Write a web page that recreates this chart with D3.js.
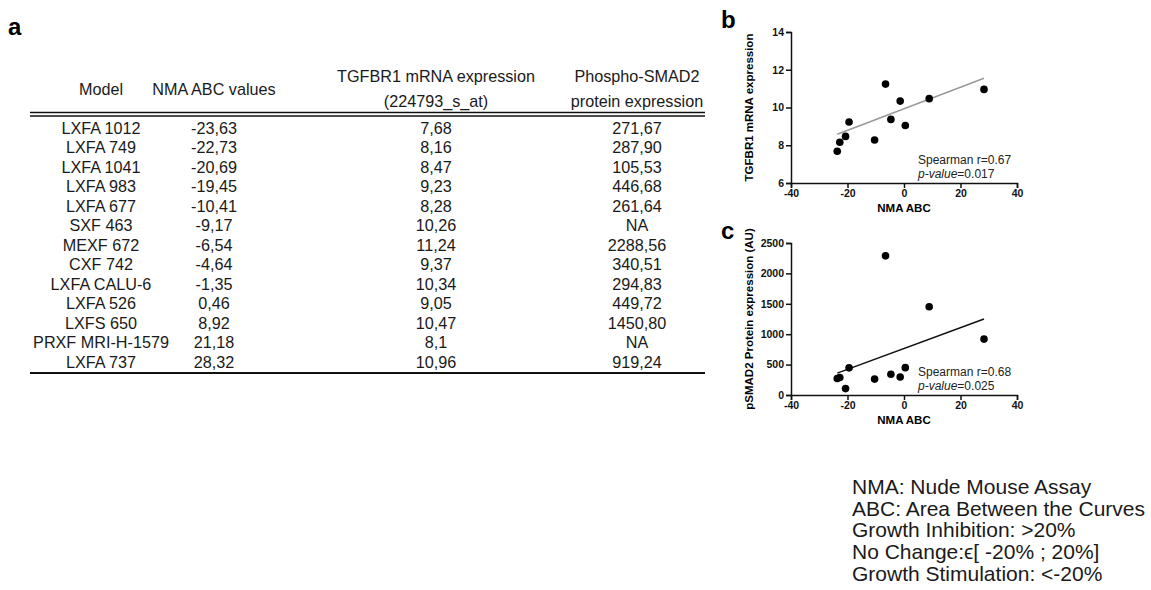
<!DOCTYPE html>
<html>
<head>
<meta charset="utf-8">
<script src="https://cdn.jsdelivr.net/npm/d3@7"></script>
<style>
  body { margin: 0; background: #fff; }
  svg { font-family: "Liberation Sans", Arial, Helvetica, sans-serif; }
</style>
</head>
<body>
<div id="fig"></div>
<script>
// table values as printed (comma decimals)
let models = ["LXFA 1012", "LXFA 749", "LXFA 1041", "LXFA 983", "LXFA 677", "SXF 463", "MEXF 672",
              "CXF 742", "LXFA CALU-6", "LXFA 526", "LXFS 650", "PRXF MRI-H-1579", "LXFA 737"];
let nmaText = ["-23,63", "-22,73", "-20,69", "-19,45", "-10,41", "-9,17", "-6,54",
               "-4,64", "-1,35", "0,46", "8,92", "21,18", "28,32"];
let tgfbr1Text = ["7,68", "8,16", "8,47", "9,23", "8,28", "10,26", "11,24",
                  "9,37", "10,34", "9,05", "10,47", "8,1", "10,96"];
let psmadText = ["271,67", "287,90", "105,53", "446,68", "261,64", "NA", "2288,56",
                 "340,51", "294,83", "449,72", "1450,80", "NA", "919,24"];

let headers = [
    ["Model"],
    ["NMA ABC values"],
    ["TGFBR1 mRNA expression", "(224793_s_at)"],
    ["Phospho-SMAD2", "protein expression"]
];

// fitted lines
let fitB = [[-23.63, 8.58], [28.32, 11.55]];
let fitC = [[-23.63, 360], [28.32, 1250]];

let notes = ["NMA: Nude Mouse Assay", "ABC: Area Between the Curves", "Growth Inhibition: >20%",
             "No Change:\u03f5[ -20% ; 20%]", "Growth Stimulation: <-20%"];

let num = s => +s.replace(",", ".");

let rows = models.map((m, i) => ({
    model: m,
    nma: num(nmaText[i]),
    tgfbr1: num(tgfbr1Text[i]),
    psmad: psmadText[i] == "NA" ? null : num(psmadText[i]),
    cells: [m, nmaText[i], tgfbr1Text[i], psmadText[i]]
}));
let scatterRows = rows.filter(d => d.psmad != null);

let width = 1151, height = 590;
let svg = d3.select("#fig").append("svg")
    .attr("width", width)
    .attr("height", height);

// ---------- panel a : table ----------
let colX = d3.scaleOrdinal().domain(d3.range(4)).range([101, 214, 436, 637]);
let rowY = d3.scaleBand().domain(models).range([118.5, 372]);

svg.append("text").attr("x", 8).attr("y", 35)
    .attr("font-size", 24).attr("font-weight", "bold").text("a");

let head = svg.append("g").attr("font-size", 16.2).attr("text-anchor", "middle").attr("fill", "#1a1a1a");
headers.forEach((h, c) => {
    let ys = h.length == 1 ? [89] : [76, 101];
    h.forEach((t, k) => {
        head.append("text").attr("x", colX(c)).attr("y", ys[k]).attr("dy", "0.35em").text(t);
    });
});

[112.5, 116].forEach(y => {
    svg.append("line").attr("x1", 30).attr("x2", 705).attr("y1", y).attr("y2", y)
        .attr("stroke", "#111").attr("stroke-width", 1.6);
});
svg.append("line").attr("x1", 30).attr("x2", 705).attr("y1", 373).attr("y2", 373)
    .attr("stroke", "#111").attr("stroke-width", 2);

let body = svg.append("g").attr("font-size", 16.2).attr("text-anchor", "middle").attr("fill", "#1a1a1a");
body.selectAll("g.row")
    .data(rows)
    .enter().append("g")
    .attr("class", "row")
    .attr("transform", d => `translate(0,${rowY(d.model) + rowY.bandwidth() / 2})`)
    .selectAll("text")
    .data(d => d.cells)
    .enter().append("text")
    .attr("x", (d, i) => colX(i))
    .attr("dy", "0.35em")
    .text(d => d);

// ---------- panels b and c : scatter ----------
function scatter(opts) {
    let x = d3.scaleLinear().domain([-40, 40]).range([791, 1017]);
    let y = d3.scaleLinear().domain(opts.yDomain).range([opts.bottom, opts.top]);
    let g = svg.append("g");

    g.append("text").attr("x", 721).attr("y", opts.top - 4)
        .attr("font-size", 24).attr("font-weight", "bold").text(opts.letter);

    let xAxis = g.append("g")
        .attr("transform", `translate(0,${opts.bottom})`)
        .call(d3.axisBottom(x).tickValues([-40, -20, 0, 20, 40]).tickFormat(d => String(d))
            .tickSize(5).tickPadding(2));
    let yAxis = g.append("g")
        .attr("transform", "translate(791,0)")
        .call(d3.axisLeft(y).tickValues(opts.yTicks).tickFormat(d => String(d))
            .tickSize(5).tickPadding(2));
    [xAxis, yAxis].forEach(a => {
        a.select(".domain").attr("stroke-width", 1.5).attr("stroke", "#111");
        a.selectAll(".tick line").attr("stroke-width", 1.5).attr("stroke", "#111");
        a.selectAll(".tick text").attr("font-size", 10.5).attr("font-weight", "bold")
            .attr("font-family", "Liberation Sans, Arial, sans-serif").attr("fill", "#111");
    });

    g.append("text").attr("x", x(0)).attr("y", opts.bottom + 29)
        .attr("text-anchor", "middle").attr("font-size", 11.5).attr("font-weight", "bold")
        .text("NMA ABC");
    g.append("text")
        .attr("transform", `translate(753,${(opts.top + opts.bottom) / 2}) rotate(-90)`)
        .attr("text-anchor", "middle").attr("font-size", 11.5).attr("font-weight", "bold")
        .text(opts.yTitle);

    g.append("line")
        .attr("x1", x(opts.fit[0][0])).attr("y1", y(opts.fit[0][1]))
        .attr("x2", x(opts.fit[1][0])).attr("y2", y(opts.fit[1][1]))
        .attr("stroke", opts.fitColor).attr("stroke-width", 1.5);

    g.selectAll("circle")
        .data(scatterRows)
        .enter().append("circle")
        .attr("cx", d => x(d.nma))
        .attr("cy", d => y(d[opts.key]))
        .attr("r", 3.8)
        .attr("fill", "#000");

    let st = g.append("g").attr("font-size", 12).attr("fill", "#222");
    st.append("text").attr("x", 918).attr("y", opts.statY).text(opts.r);
    let p = st.append("text").attr("x", 918).attr("y", opts.statY + 14);
    p.append("tspan").attr("font-style", "italic").text("p-value");
    p.append("tspan").text(opts.p);
}

scatter({
    letter: "b", key: "tgfbr1", top: 32, bottom: 183,
    yDomain: [6, 14], yTicks: [6, 8, 10, 12, 14],
    yTitle: "TGFBR1 mRNA expression",
    fit: fitB, fitColor: "#999",
    statY: 164, r: "Spearman r=0.67", p: "=0.017"
});
scatter({
    letter: "c", key: "psmad", top: 243, bottom: 395,
    yDomain: [0, 2500], yTicks: [0, 500, 1000, 1500, 2000, 2500],
    yTitle: "pSMAD2 Protein expression (AU)",
    fit: fitC, fitColor: "#111",
    statY: 376, r: "Spearman r=0.68", p: "=0.025"
});

// ---------- legend notes ----------
svg.append("g").attr("font-size", 21).attr("fill", "#1a1a1a")
    .selectAll("text")
    .data(notes)
    .enter().append("text")
    .attr("x", 852)
    .attr("y", (d, i) => 494 + i * 21.7)
    .text(d => d);
</script>
</body>
</html>
